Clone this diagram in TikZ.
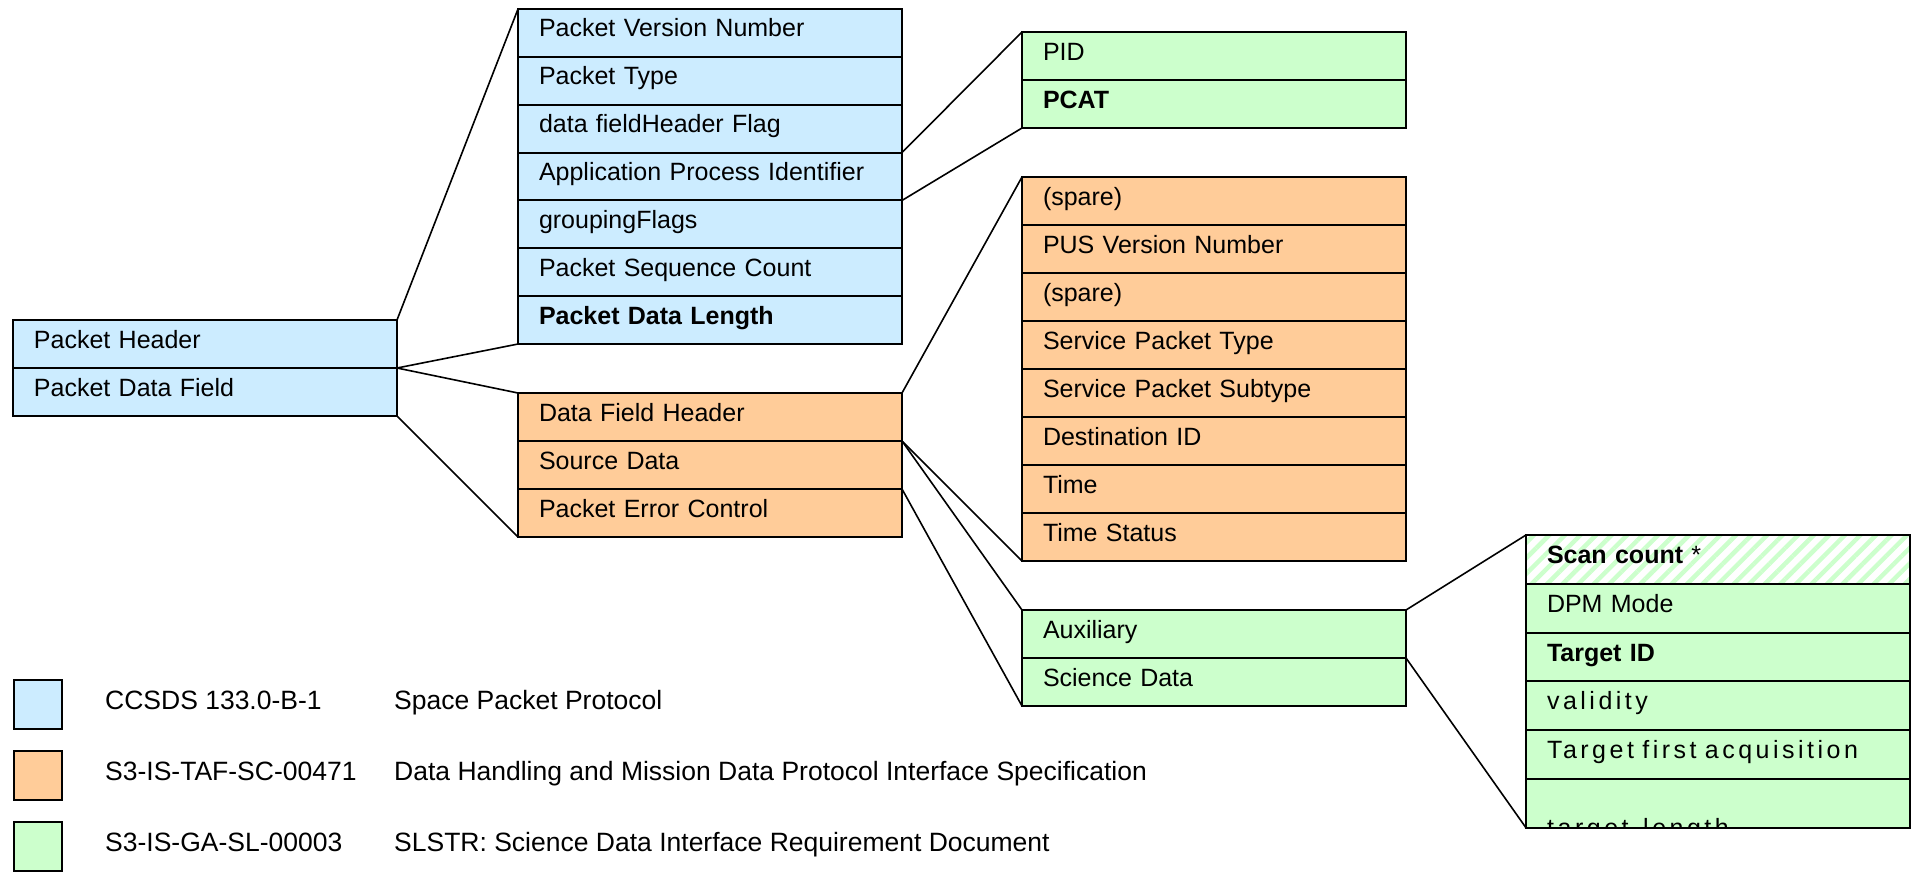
\documentclass[tikz,border=0pt]{standalone}
\usepackage{fontspec}
\setmainfont{Liberation Sans}
\newfontfamily\lsfont[LetterSpace=14,WordSpace=1.4]{Liberation Sans}
\usetikzlibrary{patterns.meta}
\definecolor{blueF}{HTML}{CCECFF}
\definecolor{orangeF}{HTML}{FFCC99}
\definecolor{greenF}{HTML}{CCFFCC}
\begin{document}
\begin{tikzpicture}[x=1pt,y=-1pt,
  font=\fontsize{25}{30}\selectfont,
  fieldrow/.style={draw=black, line width=2pt, outer sep=0pt, inner xsep=21pt, inner ysep=0pt,
    text width=342pt, minimum height=48pt, text height=20pt, text depth=12pt,
    align=left, anchor=north west},
  bluerow/.style={fieldrow, fill=blueF, minimum height=47.86pt},
  orangerow/.style={fieldrow, fill=orangeF},
  greenrow/.style={fieldrow, fill=greenF},
  greenbigrow/.style={fieldrow, fill=greenF, minimum height=48.8pt},
  conn/.style={line width=1.6pt, line join=round},
  legbox/.style={draw=black, line width=2pt, outer sep=0pt, minimum width=48pt, minimum height=49pt,
    inner sep=0pt, anchor=north west},
  legtext/.style={anchor=base west, inner sep=0pt, font=\fontsize{26.5}{30}\selectfont},
  cliptext/.style={anchor=base west, inner sep=0pt}]
\useasboundingbox (0,0) rectangle (1917,871);

% Packet header / data field
\node[bluerow, minimum height=48pt] (ph1) at (13,320) {Packet Header};
\node[bluerow, minimum height=48pt] (ph2) at (ph1.south west) {Packet Data Field};

% Primary header fields
\node[bluerow] (b1) at (518,9) {Packet Version Number};
\node[bluerow] (b2) at (b1.south west) {Packet Type};
\node[bluerow] (b3) at (b2.south west) {data fieldHeader Flag};
\node[bluerow] (b4) at (b3.south west) {Application Process Identifier};
\node[bluerow] (b5) at (b4.south west) {groupingFlags};
\node[bluerow] (b6) at (b5.south west) {Packet Sequence Count};
\node[bluerow] (b7) at (b6.south west) {\bfseries Packet Data Length};

% Data field
\node[orangerow] (o1) at (518,393) {Data Field Header};
\node[orangerow] (o2) at (o1.south west) {Source Data};
\node[orangerow] (o3) at (o2.south west) {Packet Error Control};

% APID split
\node[greenrow] (p1) at (1022,32) {PID};
\node[greenrow] (p2) at (p1.south west) {\bfseries PCAT};

% Data field header fields
\node[orangerow] (ob1) at (1022,177) {(spare)};
\node[orangerow] (ob2) at (ob1.south west) {PUS Version Number};
\node[orangerow] (ob3) at (ob2.south west) {(spare)};
\node[orangerow] (ob4) at (ob3.south west) {Service Packet Type};
\node[orangerow] (ob5) at (ob4.south west) {Service Packet Subtype};
\node[orangerow] (ob6) at (ob5.south west) {Destination ID};
\node[orangerow] (ob7) at (ob6.south west) {Time};
\node[orangerow] (ob8) at (ob7.south west) {Time Status};

% Source data
\node[greenrow] (a1) at (1022,610) {Auxiliary};
\node[greenrow] (a2) at (a1.south west) {Science Data};

% Auxiliary fields
\node[fieldrow, minimum height=48.8pt, pattern={Lines[angle=45,distance=11pt,line width=4.5pt]}, pattern color=greenF] (g1) at (1526,535) {{\bfseries Scan count} *};
\node[greenbigrow] (g2) at (g1.south west) {DPM Mode};
\node[greenbigrow] (g3) at (g2.south west) {\bfseries Target ID};
\node[greenbigrow] (g4) at (g3.south west) {\lsfont validity};
\node[greenbigrow] (g5) at (g4.south west) {\lsfont Target first acquisition};
\node[greenbigrow] (g6) at (g5.south west) {};
\begin{scope}
  \clip (g6.north west) rectangle (g6.south east);
  \node[cliptext] (g6t) at (1547,836) {\lsfont target length};
\end{scope}

% Connectors
\draw[conn] (ph1.north east) -- (b1.north west);
\draw[conn] (ph1.south east) -- (b7.south west);
\draw[conn] (ph1.south east) -- (o1.north west);
\draw[conn] (ph2.south east) -- (o3.south west);
\draw[conn] (b3.south east) -- (p1.north west);
\draw[conn] (b4.south east) -- (p2.south west);
\draw[conn] (o1.north east) -- (ob1.north west);
\draw[conn] (o1.south east) -- (ob8.south west);
\draw[conn] (o1.south east) -- (a1.north west);
\draw[conn] (o2.south east) -- (a2.south west);
\draw[conn] (a1.north east) -- (g1.north west);
\draw[conn] (a1.south east) -- (g6.south west);

% Legend
\node[legbox, fill=blueF] (l1) at (14,680) {};
\node[legbox, fill=orangeF] (l2) at (14,751) {};
\node[legbox, fill=greenF] (l3) at (14,822) {};
\node[legtext] (l1a) at (105,709) {CCSDS 133.0-B-1};
\node[legtext] (l1b) at (394,709) {Space Packet Protocol};
\node[legtext] (l2a) at (105,780) {S3-IS-TAF-SC-00471};
\node[legtext] (l2b) at (394,780) {Data Handling and Mission Data Protocol Interface Specification};
\node[legtext] (l3a) at (105,851) {S3-IS-GA-SL-00003};
\node[legtext] (l3b) at (394,851) {SLSTR: Science Data Interface Requirement Document};
\end{tikzpicture}
\end{document}
